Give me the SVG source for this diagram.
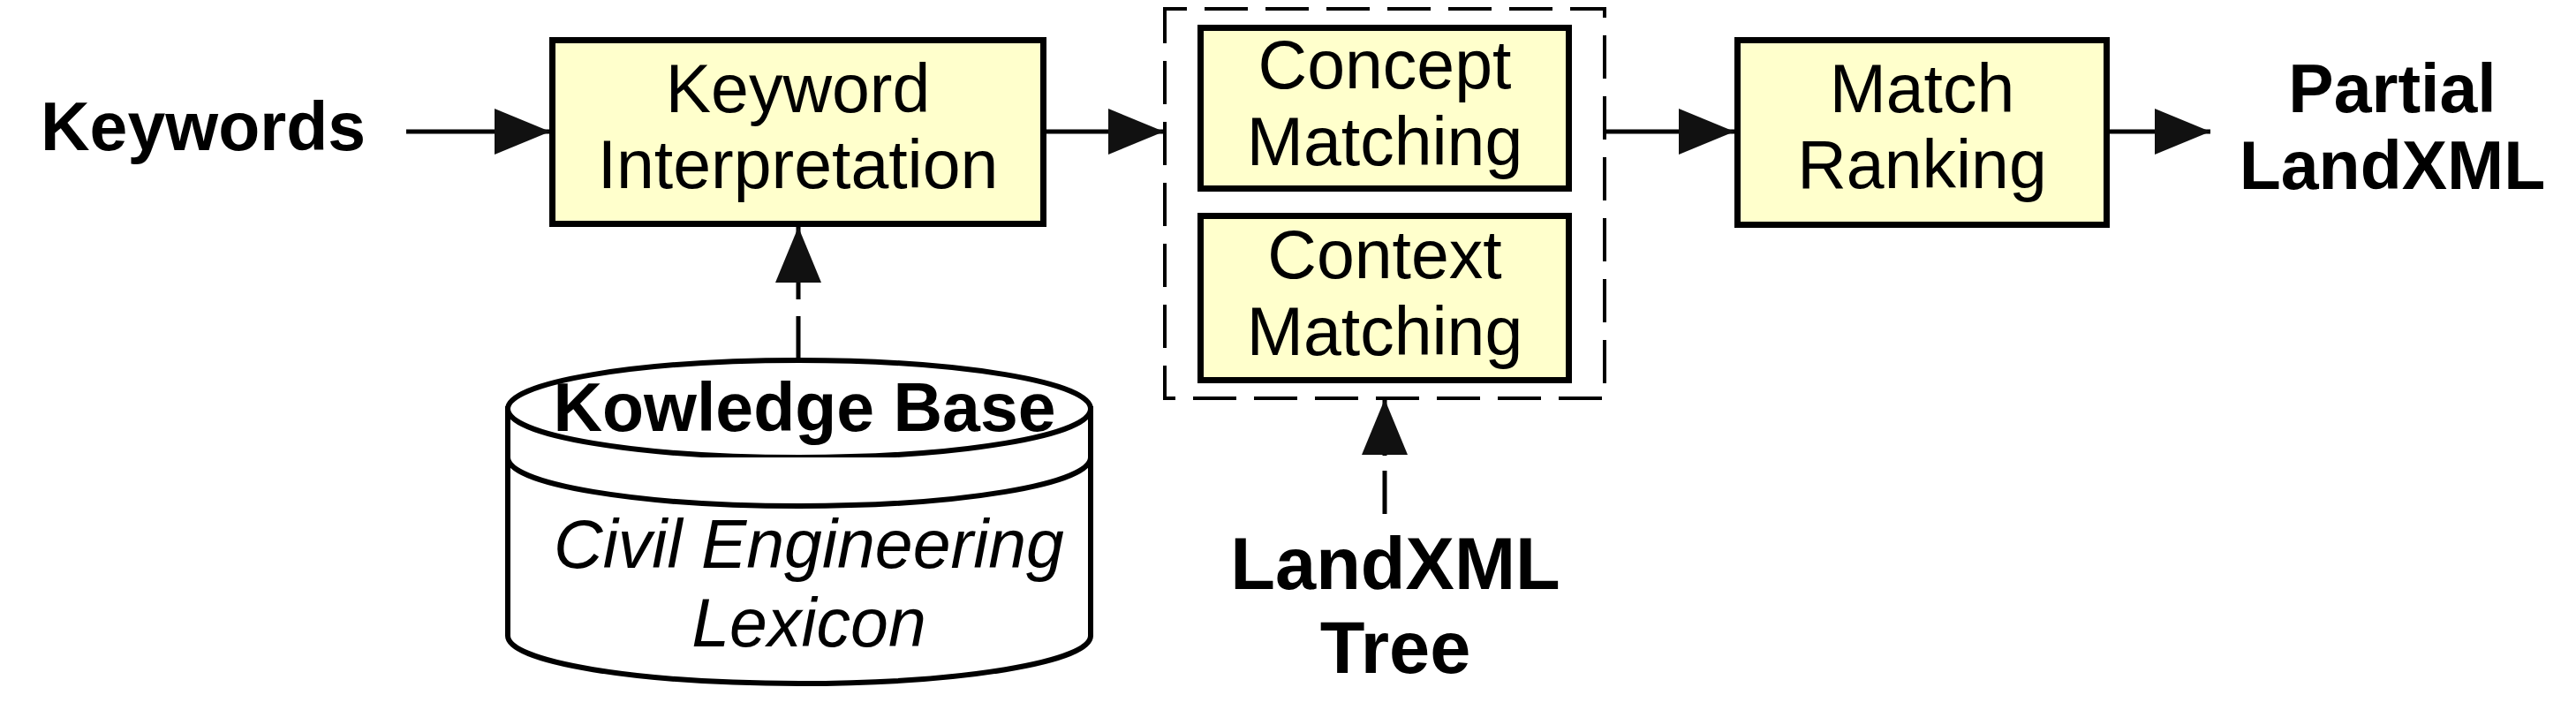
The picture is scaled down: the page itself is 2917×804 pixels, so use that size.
<svg xmlns="http://www.w3.org/2000/svg" width="2917" height="804" viewBox="0 0 2917 804">
<style>
.box{fill:#FFFFCC;stroke:#000;stroke-width:7}
.t{font-family:"Liberation Sans",Arial,sans-serif;font-size:77px;fill:#000;text-anchor:middle}
.b{font-weight:bold}
.i{font-style:italic}
.ln{stroke:#000;stroke-width:5;fill:none}
.cyl{fill:#fff;stroke:#000;stroke-width:6}
</style>
<defs>
<marker id="ah" markerUnits="userSpaceOnUse" markerWidth="64" markerHeight="54" refX="63" refY="26" orient="auto">
<path d="M0,0 L63,26 L0,52 Z" fill="#111"/>
</marker>
</defs>
<rect width="2917" height="804" fill="#fff"/>
<g id="connectors">
<path class="ln" d="M460,149 L623,149" marker-end="url(#ah)"/>
<path class="ln" d="M1185,149 L1318,149" marker-end="url(#ah)"/>
<path class="ln" d="M1817,149 L1964,149" marker-end="url(#ah)"/>
<path class="ln" d="M2389,149 L2503,149" marker-end="url(#ah)"/>
<path class="ln" d="M904,405 L904,257" stroke-dasharray="47 19 200" marker-end="url(#ah)"/>
<path class="ln" d="M1568,582 L1568,452" stroke-dasharray="49 17 200" marker-end="url(#ah)"/>
</g>
<g id="group-matching">
<rect x="1319" y="10" width="498" height="441" fill="none" stroke="#000" stroke-width="4" stroke-dasharray="49 20" stroke-dashoffset="24"/>
</g>
<g id="keywords">
<text class="t b" x="230" y="170">Keywords</text>
</g>
<g id="keyword-interpretation">
<rect class="box" x="625.5" y="45.5" width="556" height="208"/>
<text class="t" x="903.5" y="127">Keyword</text>
<text class="t" x="903.5" y="213">Interpretation</text>
</g>
<g id="concept-matching">
<rect class="box" x="1359.5" y="31.5" width="417" height="182"/>
<text class="t" x="1568" y="100">Concept</text>
<text class="t" x="1568" y="187">Matching</text>
</g>
<g id="context-matching">
<rect class="box" x="1359.5" y="244.5" width="417" height="186"/>
<text class="t" x="1568" y="315">Context</text>
<text class="t" x="1568" y="402">Matching</text>
</g>
<g id="match-ranking">
<rect class="box" x="1967.5" y="45.5" width="418" height="209"/>
<text class="t" x="2176.5" y="127">Match</text>
<text class="t" x="2176.5" y="213">Ranking</text>
</g>
<g id="partial-landxml">
<text class="t b" x="2709" y="127">Partial</text>
<text class="t b" x="2709" y="214">LandXML</text>
</g>
<g id="knowledge-base">
<path class="cyl" d="M575,463 L575,720 A330,54 0 0 0 1235,720 L1235,463 Z"/>
<ellipse class="cyl" cx="905" cy="463" rx="330" ry="55"/>
<path class="cyl" fill="none" d="M575,518 A330,55 0 0 0 1235,518"/>
<text class="t b" x="911" y="488">Kowledge Base</text>
<text class="t i" x="916" y="643">Civil Engineering</text>
<text class="t i" x="916" y="732">Lexicon</text>
</g>
<g id="landxml-tree">
<text class="t b" x="1580" y="667" style="font-size:83px">LandXML</text>
<text class="t b" x="1580" y="762" style="font-size:83px">Tree</text>
</g>
</svg>
